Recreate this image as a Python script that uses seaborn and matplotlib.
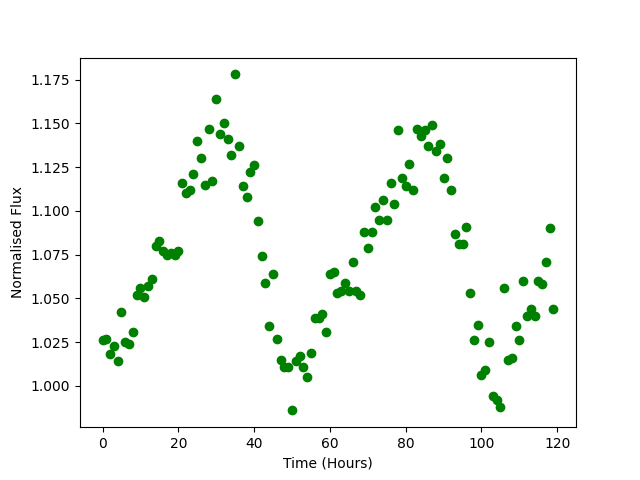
import matplotlib
matplotlib.use("Agg")
import matplotlib.pyplot as plt
import seaborn as sns
import pandas as pd
import numpy as np

# time in hours, one reading per hour
hours = list(range(120))

flux = [
    1.026, 1.027, 1.018, 1.023, 1.014, 1.042, 1.025, 1.024, 1.031, 1.052,
    1.056, 1.051, 1.057, 1.061, 1.080, 1.083, 1.077, 1.075, 1.076, 1.075,
    1.077, 1.116, 1.110, 1.112, 1.121, 1.140, 1.130, 1.115, 1.147, 1.117,
    1.164, 1.144, 1.150, 1.141, 1.132, 1.178, 1.137, 1.114, 1.108, 1.122,
    1.126, 1.094, 1.074, 1.059, 1.034, 1.064, 1.027, 1.015, 1.011, 1.011,
    0.986, 1.014, 1.017, 1.011, 1.005, 1.019, 1.039, 1.039, 1.041, 1.031,
    1.064, 1.065, 1.053, 1.054, 1.059, 1.054, 1.071, 1.054, 1.052, 1.088,
    1.079, 1.088, 1.102, 1.095, 1.106, 1.095, 1.116, 1.104, 1.146, 1.119,
    1.114, 1.127, 1.112, 1.147, 1.143, 1.146, 1.137, 1.149, 1.134, 1.138,
    1.119, 1.130, 1.112, 1.087, 1.081, 1.081, 1.091, 1.053, 1.026, 1.035,
    1.006, 1.009, 1.025, 0.994, 0.992, 0.988, 1.056, 1.015, 1.016, 1.034,
    1.026, 1.060, 1.040, 1.044, 1.040, 1.060, 1.058, 1.071, 1.090, 1.044,
]

df = pd.DataFrame({"hours": hours, "flux": flux})

fig, ax = plt.subplots(figsize=(6.4, 4.8), dpi=100)
sns.scatterplot(data=df, x="hours", y="flux", color="green", s=36,
                edgecolor="green", linewidth=1, ax=ax)
ax.set_xlabel("Time (Hours)")
ax.set_ylabel("Normalised Flux")
ax.set_xticks(np.arange(0, 121, 20))
fig.savefig("out.png", dpi=100)
